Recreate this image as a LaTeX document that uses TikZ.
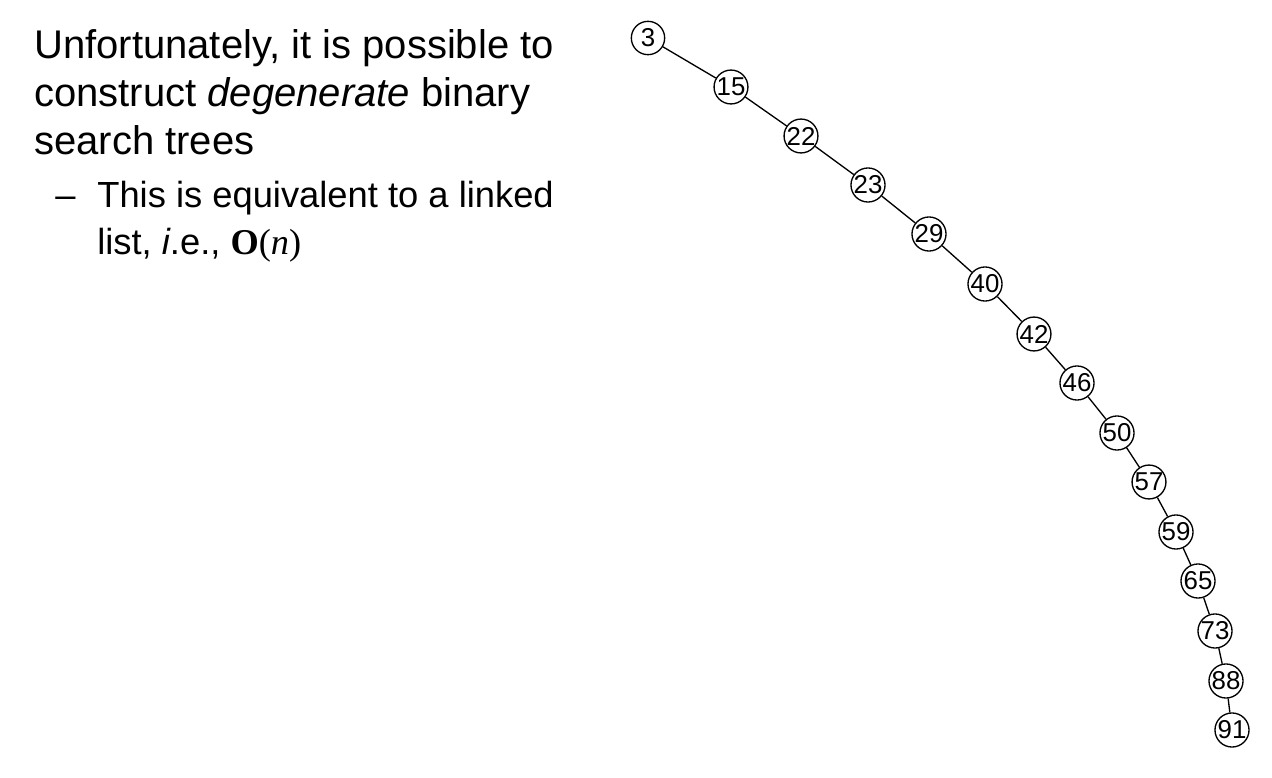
\documentclass[tikz,border=0pt]{standalone}
\usepackage{fontspec}
\setmainfont{Liberation Sans}
\newfontfamily\timesfont{Liberation Serif}
\usetikzlibrary{positioning}

\tikzset{
  key/.style={draw, circle, thick, inner sep=0pt, minimum size=20pt, font=\fontsize{15.5}{16}\selectfont},
  link/.style={thick}
}

\begin{document}
\begin{tikzpicture}[x=0.6pt, y=-0.6pt]
  \useasboundingbox (0,0) rectangle (1272,778);
  % text
  \node[anchor=north west, inner sep=0pt, align=left,
        font=\fontsize{24}{28.8}\selectfont] (intro) at (34,28.7)
    {Unfortunately, it is possible to\\construct \textit{degenerate} binary\\search trees};
  \node[anchor=base west, inner sep=0pt, font=\fontsize{21.8}{28.2}\selectfont] (dash) at (55,207) {--};
  \node[anchor=north west, inner sep=0pt, align=left,
        font=\fontsize{21.8}{28.2}\selectfont] (note) at (97,180.5)
    {This is equivalent to a linked\\list, \textit{i}.e., {\timesfont\textbf{O}(\textit{n})}};
  % the tree
  \foreach \k/\x/\y in {3/648/38, 15/731/87, 22/801/136, 23/868/185, 29/929/234,
      40/985/284, 42/1034/334, 46/1077/383, 50/1117/433, 57/1149/482,
      59/1176/532, 65/1198/581, 73/1215/631, 88/1226/681, 91/1232/730}
    \node[key] (n\k) at (\x,\y) {\k};
  \foreach \a/\b in {3/15, 15/22, 22/23, 23/29, 29/40, 40/42, 42/46, 46/50,
      50/57, 57/59, 59/65, 65/73, 73/88, 88/91}
    \draw[link] (n\a) -- (n\b);
\end{tikzpicture}
\end{document}
